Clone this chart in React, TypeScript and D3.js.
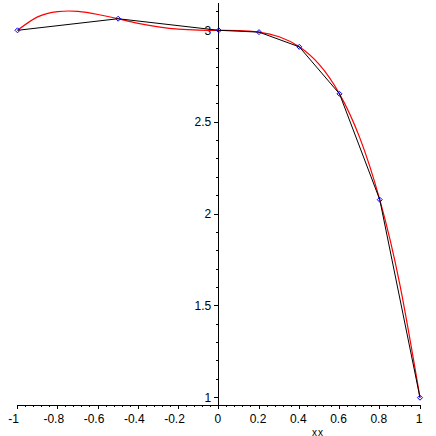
import React from "react";
import * as d3 from "d3";

// sample points (markers + black polyline)
const xData = [-1, -0.5, 0, 0.2, 0.4, 0.6, 0.8, 1];
const yData = [3.0, 3.063, 3.0, 2.99, 2.91, 2.654, 2.078, 1.0];
// red curve, read every 0.1 along x
const curveX = [-1, -0.9, -0.8, -0.7, -0.6, -0.5, -0.4, -0.3, -0.2, -0.1, 0, 0.1, 0.2, 0.3, 0.4, 0.5, 0.6, 0.7, 0.8, 0.9, 1];
const curveY = [3.0, 3.073, 3.102, 3.103, 3.086, 3.063, 3.038, 3.019, 3.006, 3.001, 3.0, 2.999, 2.99, 2.965, 2.91, 2.813, 2.654, 2.417, 2.078, 1.615, 1.0];
const xMajorTicks = [-1, -0.8, -0.6, -0.4, -0.2, 0, 0.2, 0.4, 0.6, 0.8, 1];
const xTickLabels = ["-1", "-0.8", "-0.6", "-0.4", "-0.2", "0", "0.2", "0.4", "0.6", "0.8", "1"];
const yMajorTicks = [1, 1.5, 2, 2.5, 3];
const yTickLabels = ["1", "1.5", "2", "2.5", "3"];
const xLabel = "xx";

export default function App() {
  const W = 436;
  const H = 436;
  const x = d3.scaleLinear().domain([-1, 1]).range([17.5, 420]);
  const y = d3.scaleLinear().domain([1, 3]).range([397.7, 30.3]);
  const xAxisY = y(0.96);
  const yAxisX = x(0);
  const yTop = y(3.15);

  const curveLine = d3
    .line<number>()
    .x((_, i) => x(curveX[i]))
    .y((d) => y(d))
    .curve(d3.curveNatural);
  const line = d3.line();
  const dataPts: [number, number][] = xData.map((v, i) => [x(v), y(yData[i])]);

  const xMinor: number[] = [];
  for (let i = 0; i <= 50; i++) {
    const v = -1 + i * 0.04;
    if (i % 5 !== 0) xMinor.push(v);
  }
  const yMinor: number[] = [];
  for (let i = 10; i <= 31; i++) {
    const v = i / 10;
    if (i % 5 !== 0) yMinor.push(v);
  }

  const font = "'Liberation Sans', Arial, sans-serif";

  return (
    <svg
      width={W}
      height={H}
      style={{ position: "absolute", left: 0, top: 0, background: "#fff" }}
    >
      <rect x={0} y={0} width={W} height={H} fill="#fff" />
      <g stroke="#000" strokeWidth={1} shapeRendering="crispEdges">
        <line x1={x(-1)} x2={x(1)} y1={xAxisY} y2={xAxisY} />
        <line x1={yAxisX} x2={yAxisX} y1={yTop} y2={xAxisY + 4} />
        {xMajorTicks.map((v) => (
          <line key={"xM" + v} x1={x(v)} x2={x(v)} y1={xAxisY} y2={xAxisY + 4} />
        ))}
        {xMinor.map((v) => (
          <line key={"xm" + v} x1={x(v)} x2={x(v)} y1={xAxisY} y2={xAxisY + 2} />
        ))}
        {yMajorTicks.map((v) => (
          <line key={"yM" + v} x1={yAxisX - 5} x2={yAxisX} y1={y(v)} y2={y(v)} />
        ))}
        {yMinor.map((v) => (
          <line key={"ym" + v} x1={yAxisX - 3} x2={yAxisX} y1={y(v)} y2={y(v)} />
        ))}
      </g>
      <g fontFamily={font} fontSize={12} fill="#000">
        {xMajorTicks.map((v, i) => (
          <text
            key={"xl" + v}
            x={x(v) + (v < 0 ? -4 : -1)}
            y={422.7}
            textAnchor="middle"
          >
            {xTickLabels[i]}
          </text>
        ))}
        {yMajorTicks.map((v, i) => (
          <text
            key={"yl" + v}
            x={yAxisX - 7.5}
            y={y(v)}
            dy="0.35em"
            textAnchor="end"
          >
            {yTickLabels[i]}
          </text>
        ))}
        <text x={318} y={435.5} textAnchor="middle" fontSize={10} letterSpacing={1}>
          {xLabel}
        </text>
      </g>
      <path d={curveLine(curveY) || ""} fill="none" stroke="#ff0000" strokeWidth={1.2} />
      <path d={line(dataPts) || ""} fill="none" stroke="#000" strokeWidth={1} />
      <g fill="none" stroke="#0000ff" strokeWidth={1}>
        {dataPts.map(([px, py], i) => (
          <path
            key={"mk" + i}
            d={`M${px - 2.5},${py}L${px},${py - 2.5}L${px + 2.5},${py}L${px},${py + 2.5}Z`}
          />
        ))}
      </g>
    </svg>
  );
}
